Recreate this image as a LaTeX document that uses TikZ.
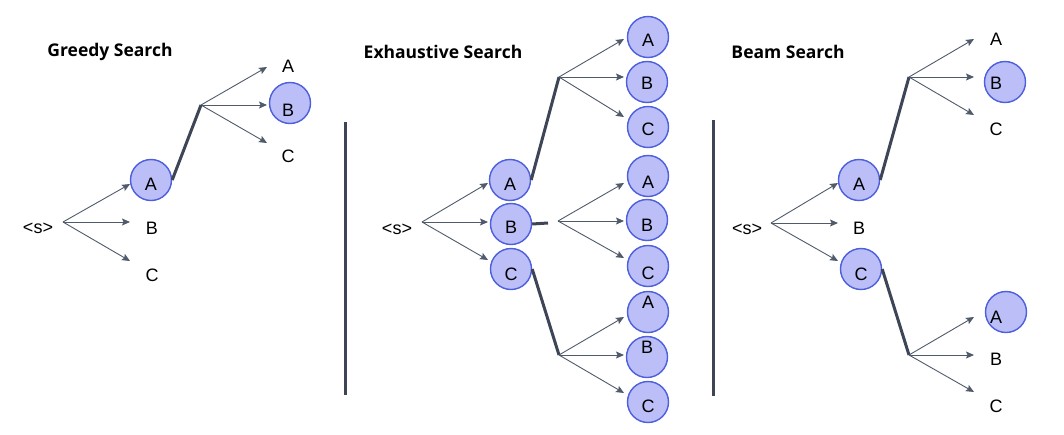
\documentclass[tikz,border=0pt]{standalone}
\usepackage{fontspec}
\setmainfont{Liberation Sans}
\newfontfamily\titlefont{Open Sans}
\usepackage{xcolor}
\definecolor{bubfill}{HTML}{BBBEF7}
\definecolor{bubline}{HTML}{4D5FDB}
\definecolor{edgecol}{HTML}{4F5A6B}
\definecolor{pathcol}{HTML}{3D4556}
\usetikzlibrary{arrows.meta}

\begin{document}
\begin{tikzpicture}[x=1pt,y=-1pt,
  bub/.style={circle,draw=bubline,fill=bubfill,line width=1.4pt,minimum size=41pt,inner sep=0pt},
  lbl/.style={font=\fontsize{18}{18}\selectfont,inner sep=0pt},
  ttl/.style={font=\titlefont\bfseries\fontsize{17.5}{18}\selectfont,inner sep=0pt},
  edge/.style={draw=edgecol,line width=0.9pt,-{Stealth[length=8pt,width=7pt,inset=1.5pt]}},
  best/.style={draw=pathcol,line width=3pt},
  sep/.style={draw=pathcol,line width=3pt}]
\useasboundingbox (0,0) rectangle (1064,434);

% greedy
\node[ttl] (gT) at (110,52) {Greedy Search};
\node[lbl] (gS) at (38,228) {<s>};
\coordinate (gF1) at (63,222);
\coordinate (gF2) at (201,105);
\node[bub] (gA) at (151,180) {};
\node[lbl] at (151,184) {A};
\node[lbl] (gB) at (152,228) {B};
\node[lbl] (gC) at (152,275) {C};
\node[lbl] (gA2) at (288,66) {A};
\node[bub] (gB2) at (290,103) {};
\node[lbl] at (288,110) {B};
\node[lbl] (gC2) at (288,156) {C};
\coordinate (g11) at (130,184); \coordinate (g12) at (130,222); \coordinate (g13) at (130,261);
\coordinate (g21) at (267,67);  \coordinate (g22) at (267,105); \coordinate (g23) at (267,143);
\foreach \t in {g11,g12,g13} \draw[edge] (gF1) -- (\t);
\foreach \t in {g21,g22,g23} \draw[edge] (gF2) -- (\t);
\draw[best] (gA.east) -- (gF2);

\coordinate (s1a) at (345,122); \coordinate (s1b) at (345,395);
\draw[sep] (s1a) -- (s1b);

% exhaustive
\node[ttl] (eT) at (443,52) {Exhaustive Search};
\node[lbl] (eS) at (397,229) {<s>};
\coordinate (eF1) at (422,222);
\node[bub] (eA) at (510,180) {}; \node[lbl] at (510,184) {A};
\node[bub] (eB) at (511,224) {}; \node[lbl] at (511,227) {B};
\node[bub] (eC) at (511,269) {}; \node[lbl] at (511,274) {C};
\coordinate (e11) at (488,183); \coordinate (e12) at (488,222); \coordinate (e13) at (488,260);
\foreach \t in {e11,e12,e13} \draw[edge] (eF1) -- (\t);

\coordinate (eFA) at (559,77);
\coordinate (eFB) at (558,221);
\coordinate (eFC) at (559,355);
\coordinate (eBs) at (548,223);
\draw[best] (eA.east) -- (eFA);
\draw[best] (eB.east) -- (eBs);
\draw[best] (eC.east) -- (eFC);

\node[bub] (eAA) at (648,37)  {}; \node[lbl] at (648,40)  {A};
\node[bub] (eAB) at (647,82)  {}; \node[lbl] at (647,83)  {B};
\node[bub] (eAC) at (648,127) {}; \node[lbl] at (648,129) {C};
\node[bub] (eBA) at (648,176) {}; \node[lbl] at (648,182) {A};
\node[bub] (eBB) at (647,220) {}; \node[lbl] at (647,225) {B};
\node[bub] (eBC) at (648,266) {}; \node[lbl] at (648,273) {C};
\node[bub] (eCA) at (648,312) {}; \node[lbl] at (648,302) {A};
\node[bub] (eCB) at (647,357) {}; \node[lbl] at (647,347) {B};
\node[bub] (eCC) at (648,402) {}; \node[lbl] at (648,406) {C};
\coordinate (eA1) at (624,39);  \coordinate (eA2) at (624,77);  \coordinate (eA3) at (624,117);
\coordinate (eB1) at (624,183); \coordinate (eB2) at (624,221); \coordinate (eB3) at (624,258);
\coordinate (eC1) at (624,317); \coordinate (eC2) at (624,355); \coordinate (eC3) at (624,393);
\foreach \t in {eA1,eA2,eA3} \draw[edge] (eFA) -- (\t);
\foreach \t in {eB1,eB2,eB3} \draw[edge] (eFB) -- (\t);
\foreach \t in {eC1,eC2,eC3} \draw[edge] (eFC) -- (\t);

\coordinate (s2a) at (713,120); \coordinate (s2b) at (713,396);
\draw[sep] (s2a) -- (s2b);

% beam
\node[ttl] (bT) at (788,52) {Beam Search};
\node[lbl] (bS) at (747,229) {<s>};
\coordinate (bF1) at (771,223);
\node[bub] (bA) at (859,180) {}; \node[lbl] at (859,184) {A};
\node[lbl] (bB) at (859,228) {B};
\node[bub] (bC) at (861,269) {}; \node[lbl] at (861,274) {C};
\coordinate (b11) at (838,183); \coordinate (b12) at (838,223); \coordinate (b13) at (838,261);
\foreach \t in {b11,b12,b13} \draw[edge] (bF1) -- (\t);

\coordinate (bFA) at (909,77);
\coordinate (bFC) at (909,355);
\draw[best] (bA.east) -- (bFA);
\draw[best] (bC.east) -- (bFC);

\node[lbl] (bAA) at (996,39) {A};
\node[bub] (bAB) at (1005,82) {}; \node[lbl] at (996,83) {B};
\node[lbl] (bAC) at (996,129) {C};
\node[bub] (bCA) at (1006,312) {}; \node[lbl] at (996,317) {A};
\node[lbl] (bCB) at (996,359) {B};
\node[lbl] (bCC) at (996,406) {C};
\coordinate (bA1) at (974,39);  \coordinate (bA2) at (974,77);  \coordinate (bA3) at (974,115);
\coordinate (bC1) at (974,317); \coordinate (bC2) at (974,355); \coordinate (bC3) at (974,392);
\foreach \t in {bA1,bA2,bA3} \draw[edge] (bFA) -- (\t);
\foreach \t in {bC1,bC2,bC3} \draw[edge] (bFC) -- (\t);
\end{tikzpicture}
\end{document}
